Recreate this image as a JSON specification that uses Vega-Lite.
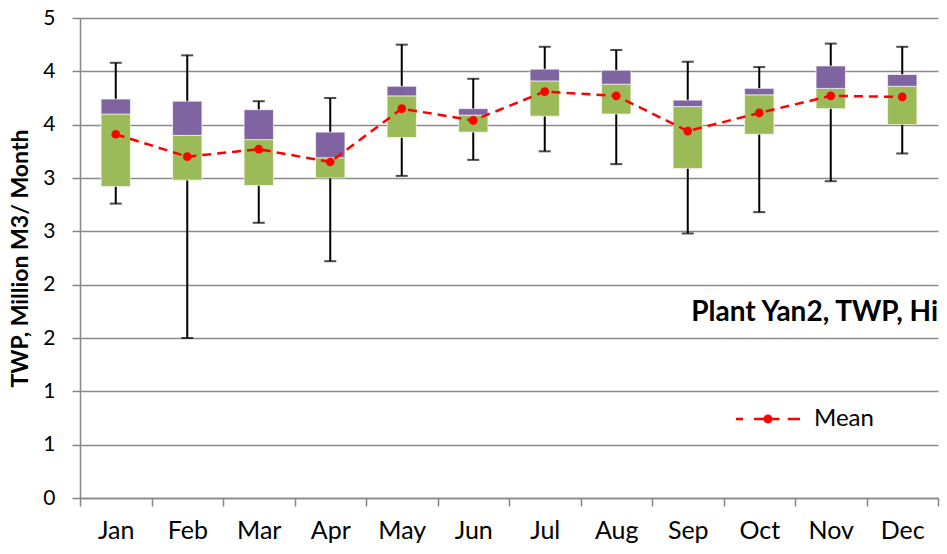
{
  "$schema": "https://vega.github.io/schema/vega-lite/v6.json",
  "width": 858,
  "height": 480,
  "autosize": {"type": "none"},
  "padding": {"left": 80, "top": 18, "right": 9, "bottom": 56},
  "background": "white",
  "config": {
    "view": {"stroke": null},
    "font": "Lato",
    "text": {"font": "Lato"}
  },
  "data": {
    "values": [
      {"month": "Jan", "min": 2.76, "q1": 2.92, "median": 3.60, "q3": 3.74, "max": 4.08, "mean": 3.41},
      {"month": "Feb", "min": 1.50, "q1": 2.98, "median": 3.40, "q3": 3.72, "max": 4.15, "mean": 3.20},
      {"month": "Mar", "min": 2.58, "q1": 2.93, "median": 3.36, "q3": 3.64, "max": 3.72, "mean": 3.27},
      {"month": "Apr", "min": 2.22, "q1": 3.00, "median": 3.19, "q3": 3.43, "max": 3.75, "mean": 3.15},
      {"month": "May", "min": 3.02, "q1": 3.38, "median": 3.77, "q3": 3.86, "max": 4.25, "mean": 3.65},
      {"month": "Jun", "min": 3.17, "q1": 3.43, "median": 3.59, "q3": 3.65, "max": 3.93, "mean": 3.54},
      {"month": "Jul", "min": 3.25, "q1": 3.58, "median": 3.91, "q3": 4.02, "max": 4.23, "mean": 3.81},
      {"month": "Aug", "min": 3.13, "q1": 3.60, "median": 3.88, "q3": 4.01, "max": 4.20, "mean": 3.77},
      {"month": "Sep", "min": 2.48, "q1": 3.09, "median": 3.67, "q3": 3.73, "max": 4.09, "mean": 3.44},
      {"month": "Oct", "min": 2.68, "q1": 3.41, "median": 3.78, "q3": 3.84, "max": 4.04, "mean": 3.61},
      {"month": "Nov", "min": 2.97, "q1": 3.65, "median": 3.84, "q3": 4.05, "max": 4.26, "mean": 3.77},
      {"month": "Dec", "min": 3.23, "q1": 3.50, "median": 3.86, "q3": 3.97, "max": 4.23, "mean": 3.76}
    ]
  },
  "encoding": {
    "x": {
      "field": "month",
      "type": "nominal",
      "sort": null,
      "scale": {"paddingInner": 0, "paddingOuter": 0},
      "axis": {
        "title": null,
        "labelAngle": 0,
        "tickBand": "extent",
        "tickSize": 8,
        "tickWidth": 1.5,
        "tickColor": "#868686",
        "domainColor": "#868686",
        "domainWidth": 1.5,
        "labelFontSize": 25,
        "labelColor": "#000000",
        "labelPadding": 12,
        "grid": false
      }
    }
  },
  "layer": [
    {
      "mark": {"type": "rule", "color": "#000000", "strokeWidth": 2},
      "encoding": {
        "y": {
          "field": "min",
          "type": "quantitative",
          "scale": {"domain": [0, 4.5], "nice": false, "zero": false},
          "axis": {
            "values": [0, 0.5, 1, 1.5, 2, 2.5, 3, 3.5, 4, 4.5],
            "format": ".0f",
            "grid": true,
            "gridColor": "#8a8a8a",
            "gridWidth": 1.5,
            "tickSize": 8,
            "tickWidth": 1.5,
            "tickColor": "#868686",
            "domainColor": "#868686",
            "domainWidth": 1.5,
            "labelFontSize": 21,
            "labelColor": "#000000",
            "labelPadding": 17,
            "title": "TWP, Million M3/ Month",
            "titleFontSize": 23,
            "titleFontWeight": "bold",
            "titleColor": "#000000",
            "titlePadding": 10
          }
        },
        "y2": {"field": "max"}
      }
    },
    {
      "mark": {"type": "tick", "color": "#000000", "size": 12, "thickness": 2, "orient": "horizontal"},
      "encoding": {"y": {"field": "min", "type": "quantitative"}}
    },
    {
      "mark": {"type": "tick", "color": "#000000", "size": 12, "thickness": 2, "orient": "horizontal"},
      "encoding": {"y": {"field": "max", "type": "quantitative"}}
    },
    {
      "mark": {"type": "bar", "color": "#9BBB59", "width": {"band": 0.41}, "stroke": "#ffffff", "strokeWidth": 1, "strokeOpacity": 0.6},
      "encoding": {
        "y": {"field": "q1", "type": "quantitative"},
        "y2": {"field": "median"}
      }
    },
    {
      "mark": {"type": "bar", "color": "#8064A2", "width": {"band": 0.41}, "stroke": "#ffffff", "strokeWidth": 1, "strokeOpacity": 0.6},
      "encoding": {
        "y": {"field": "median", "type": "quantitative"},
        "y2": {"field": "q3"}
      }
    },
    {
      "mark": {"type": "line", "color": "#FF0000", "strokeWidth": 2.5, "strokeDash": [9, 6]},
      "encoding": {"y": {"field": "mean", "type": "quantitative"}}
    },
    {
      "mark": {"type": "point", "filled": true, "size": 75, "opacity": 1},
      "encoding": {
        "y": {"field": "mean", "type": "quantitative"},
        "color": {
          "datum": "Mean",
          "type": "nominal",
          "scale": {"range": ["#FF0000"]},
          "legend": {
            "title": null,
            "orient": "none",
            "legendX": 655,
            "legendY": 368,
            "padding": 0,
            "symbolType": "M-1,-0.04H-0.78V0.04H-1ZM-0.44,-0.04H0.36V0.04H-0.44ZM0.62,-0.04H1V0.04H0.62ZM0.14,0A0.14,0.14,0,1,1,-0.14,0A0.14,0.14,0,1,1,0.14,0Z",
            "symbolSize": 4096,
            "labelFontSize": 24,
            "labelColor": "#000000",
            "labelOffset": 13,
            "labelFont": "Lato",
            "encode": {
              "symbols": {
                "update": {
                  "fill": {"value": "#FF0000"},
                  "stroke": {"value": "#FF0000"},
                  "strokeWidth": {"value": 0.5},
                  "opacity": {"value": 1},
                  "fillOpacity": {"value": 1}
                }
              }
            }
          }
        }
      }
    },
    {
      "data": {"values": [{"label": "Plant Yan2, TWP, Hi"}]},
      "mark": {"type": "text", "align": "right", "baseline": "alphabetic", "fontSize": 28, "fontWeight": "bold", "font": "Lato", "color": "#000000"},
      "encoding": {
        "x": {"datum": "Dec", "type": "nominal", "bandPosition": 1},
        "y": {"datum": 1.656, "type": "quantitative"},
        "text": {"field": "label"}
      }
    }
  ]
}
